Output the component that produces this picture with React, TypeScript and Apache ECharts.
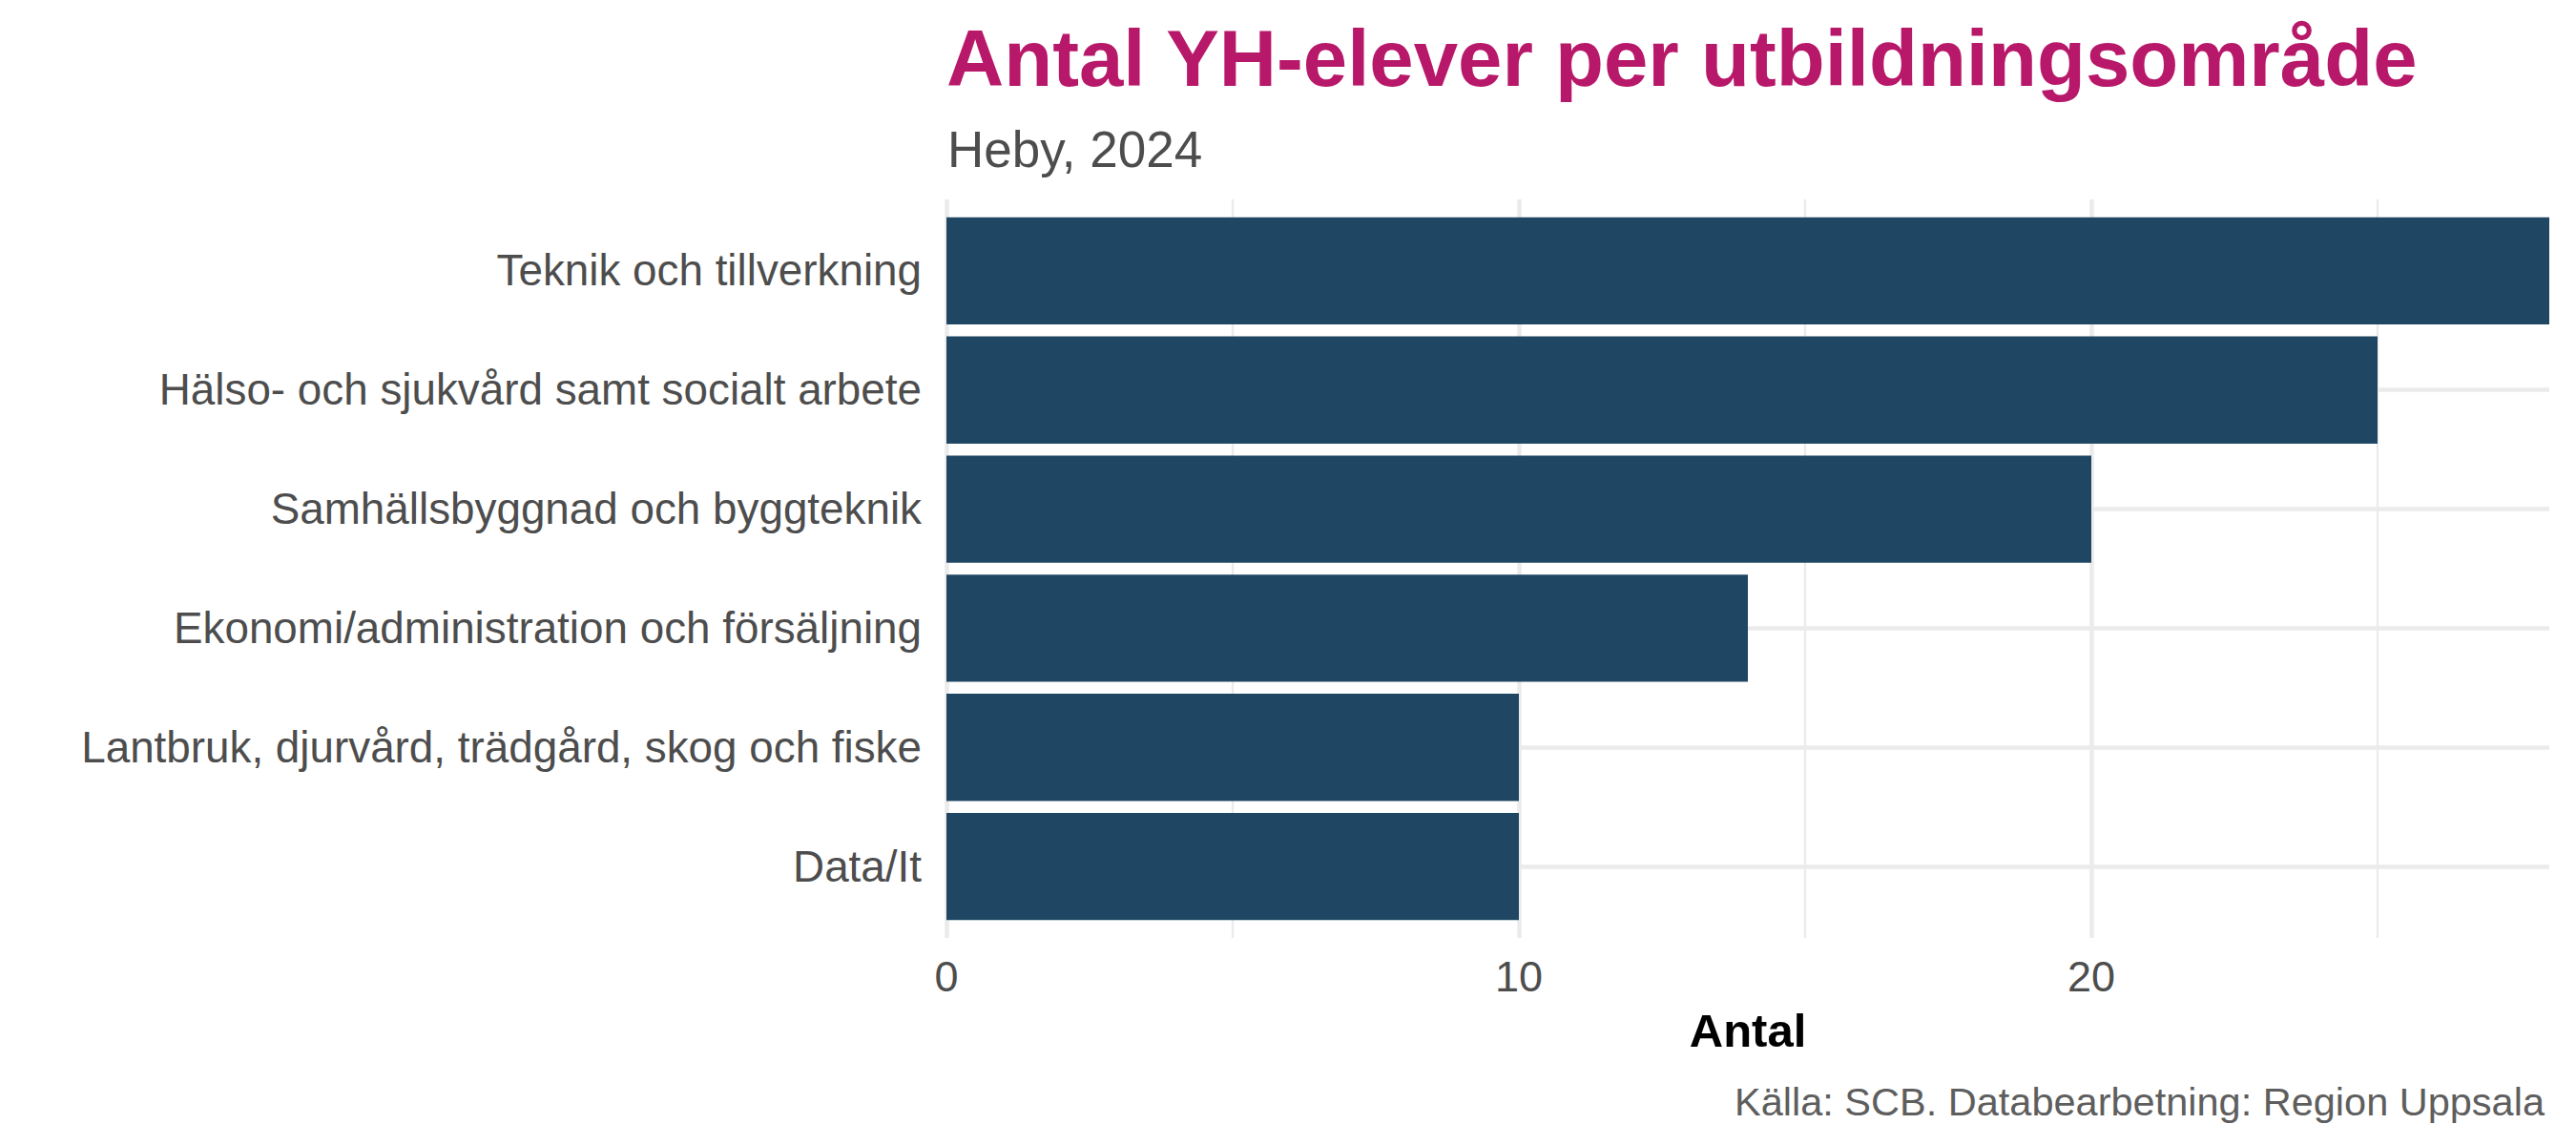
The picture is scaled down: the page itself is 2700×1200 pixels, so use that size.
import React, { useEffect, useRef } from "react";
import * as echarts from "echarts";

const titleText = "Antal YH-elever per utbildningsområde";
const subtitleText = "Heby, 2024";
const captionText = "Källa: SCB. Databearbetning: Region Uppsala";
const xAxisName = "Antal";

const categories = [
  "Teknik och tillverkning",
  "Hälso- och sjukvård samt socialt arbete",
  "Samhällsbyggnad och byggteknik",
  "Ekonomi/administration och försäljning",
  "Lantbruk, djurvård, trädgård, skog och fiske",
  "Data/It",
];
const values = [28, 25, 20, 14, 10, 10];

const FONT = "Liberation Sans, Arial, sans-serif";

export default function App() {
  const ref = useRef<HTMLDivElement>(null);

  useEffect(() => {
    document.body.style.margin = "0";
    const chart = echarts.init(ref.current!, null, { renderer: "svg" });
    const gridLine = "#EBEBEB";
    chart.setOption({
      animation: false,
      backgroundColor: "#FFFFFF",
      textStyle: { fontFamily: FONT },
      title: [
        {
          text: titleText,
          left: 987,
          top: 15,
          textStyle: { fontSize: 83.4, fontWeight: "bold", color: "#B8186A", fontFamily: FONT },
        },
        {
          text: subtitleText,
          left: 988,
          top: 125,
          textStyle: { fontSize: 53, fontWeight: "normal", color: "#4D4D4D", fontFamily: FONT },
        },
        {
          text: captionText,
          right: 28,
          top: 1128,
          textStyle: { fontSize: 41.5, fontWeight: "normal", color: "#5E5E5E", fontFamily: FONT },
        },
      ],
      grid: [
        { left: 992, right: 28, top: 221.5, bottom: 229.5, containLabel: false },
        { left: 992, right: 28, top: 209, bottom: 217, containLabel: false },
      ],
      xAxis: [
        { type: "value", gridIndex: 0, min: 0, max: 28, show: false },
        {
          type: "value",
          gridIndex: 1,
          min: 0,
          max: 28,
          interval: 10,
          axisLine: { show: false },
          axisTick: { show: false },
          axisLabel: {
            fontSize: 45,
            color: "#4D4D4D",
            margin: 18,
            fontFamily: FONT,
            showMaxLabel: false,
          },
          splitLine: {
            show: true,
            showMinLine: true,
            showMaxLine: false,
            lineStyle: { color: gridLine, width: 4.5 },
          },
          minorTick: { show: false, splitNumber: 2 },
          minorSplitLine: { show: true, lineStyle: { color: gridLine, width: 2.3 } },
          name: xAxisName,
          nameLocation: "middle",
          nameGap: 72,
          nameTextStyle: { fontSize: 49, fontWeight: "bold", color: "#000000", fontFamily: FONT },
        },
      ],
      yAxis: [
        {
          type: "category",
          gridIndex: 0,
          data: categories,
          inverse: true,
          axisLine: { show: false },
          axisTick: { show: false },
          splitLine: { show: false },
          axisLabel: { fontSize: 45.8, color: "#4D4D4D", margin: 26, fontFamily: FONT },
        },
        {
          type: "value",
          gridIndex: 1,
          min: -6,
          max: 56,
          splitNumber: 6,
          minInterval: 10,
          maxInterval: 10,
          axisLine: { show: false },
          axisTick: { show: false },
          axisLabel: { show: false },
          splitLine: {
            show: true,
            showMinLine: false,
            showMaxLine: false,
            lineStyle: { color: gridLine, width: 4.5 },
          },
        },
      ],
      series: [
        {
          type: "bar",
          xAxisIndex: 0,
          yAxisIndex: 0,
          data: values,
          barCategoryGap: "10%",
          itemStyle: { color: "#1F4763" },
          z: 3,
        },
      ],
    });
    return () => chart.dispose();
  }, []);

  return (
    <div
      ref={ref}
      style={{ width: 2700, height: 1200, position: "fixed", left: 0, top: 0 }}
    />
  );
}
